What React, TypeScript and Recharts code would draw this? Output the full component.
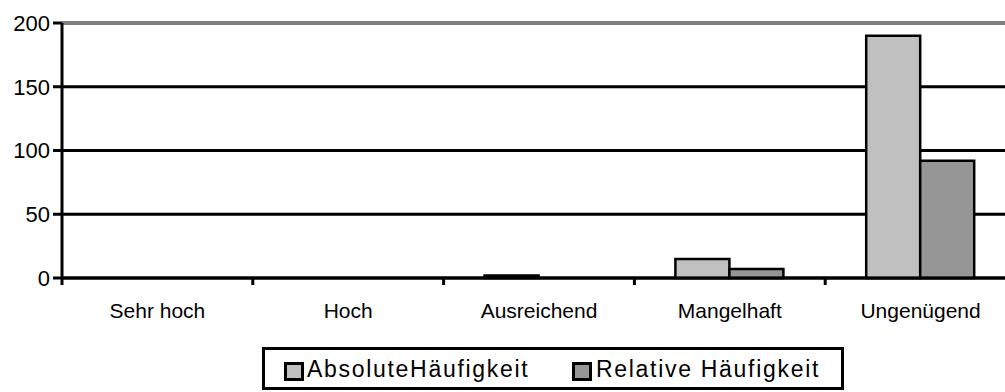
import { BarChart, Bar, XAxis, YAxis, CartesianGrid, ReferenceLine } from "recharts";

const categories = ["Sehr hoch", "Hoch", "Ausreichend", "Mangelhaft", "Ungenügend"];
const absoluteValues = [0, 0, 2, 15, 190];
const relativeValues = [0, 0, 0, 7, 92];
const yTicks = [0, 50, 100, 150, 200];
const seriesNames = ["AbsoluteHäufigkeit", "Relative Häufigkeit"];
const seriesColors = ["#c0c0c0", "#969696"];

const FONT = '"Liberation Sans", Arial, sans-serif';
const CHART_W = 1020;
const CHART_H = 392;
const Y_AXIS_W = 62;
const MARGIN = { top: 23, right: 4, left: 0, bottom: 0 };
const X_AXIS_H = 114;
const PLOT_BOTTOM = CHART_H - MARGIN.bottom - X_AXIS_H;
const CATEGORY_W = (CHART_W - Y_AXIS_W - MARGIN.left - MARGIN.right) / categories.length;

const data = categories.map((name, i) => ({
  name,
  abs: absoluteValues[i],
  rel: relativeValues[i],
}));

// Excel-style axis: tick marks sit between categories, labels in the middle
function CategoryTick(props: any) {
  const { x, payload } = props;
  const edge = x - CATEGORY_W / 2;
  return (
    <g>
      <line x1={edge} x2={edge} y1={PLOT_BOTTOM} y2={PLOT_BOTTOM + 7} stroke="#000" strokeWidth={3} />
      <text
        x={x}
        y={PLOT_BOTTOM + 25}
        dy="0.71em"
        textAnchor="middle"
        fill="#000"
        fontSize={21}
        fontFamily={FONT}
      >
        {payload.value}
      </text>
    </g>
  );
}

function LegendBox() {
  const swatch = (left: number, color: string) => ({
    position: "absolute" as const,
    left,
    top: 12,
    width: 20,
    height: 19,
    boxSizing: "border-box" as const,
    border: "3px solid #000",
    background: color,
  });
  const label = (left: number) => ({
    position: "absolute" as const,
    left,
    top: 8,
    fontSize: 23,
    lineHeight: "23px",
    letterSpacing: "1.7px",
    fontFamily: FONT,
    color: "#000",
    whiteSpace: "nowrap" as const,
  });
  return (
    <div
      style={{
        position: "absolute",
        left: 262,
        top: 347,
        width: 582,
        height: 43,
        boxSizing: "border-box",
        border: "3px solid #000",
        background: "#fff",
      }}
    >
      <div style={swatch(19, seriesColors[0])} />
      <div style={label(42)}>{seriesNames[0]}</div>
      <div style={swatch(307, seriesColors[1])} />
      <div style={label(331)}>{seriesNames[1]}</div>
    </div>
  );
}

export default function App() {
  return (
    <div
      style={{
        position: "absolute",
        left: 0,
        top: 0,
        width: 1005,
        height: CHART_H,
        overflow: "hidden",
        background: "#fff",
      }}
    >
      <BarChart width={CHART_W} height={CHART_H} data={data} margin={MARGIN} barGap={0}>
        <CartesianGrid vertical={false} stroke="#000" strokeWidth={3} />
        <ReferenceLine y={200} stroke="#808080" strokeWidth={3} />
        <XAxis
          dataKey="name"
          height={X_AXIS_H}
          interval={0}
          tickLine={false}
          axisLine={{ stroke: "#000", strokeWidth: 3 }}
          tick={<CategoryTick />}
        />
        <YAxis
          domain={[0, 200]}
          ticks={yTicks}
          interval={0}
          width={Y_AXIS_W}
          tickSize={9}
          tickMargin={3}
          axisLine={{ stroke: "#000", strokeWidth: 3 }}
          tickLine={{ stroke: "#000", strokeWidth: 3 }}
          tick={{ fill: "#000", fontSize: 22, fontFamily: FONT }}
        />
        <Bar
          dataKey="abs"
          name={seriesNames[0]}
          fill={seriesColors[0]}
          stroke="#000"
          strokeWidth={2.5}
          barSize={54}
          isAnimationActive={false}
        />
        <Bar
          dataKey="rel"
          name={seriesNames[1]}
          fill={seriesColors[1]}
          stroke="#000"
          strokeWidth={2.5}
          barSize={54}
          isAnimationActive={false}
        />
      </BarChart>
      <LegendBox />
    </div>
  );
}
